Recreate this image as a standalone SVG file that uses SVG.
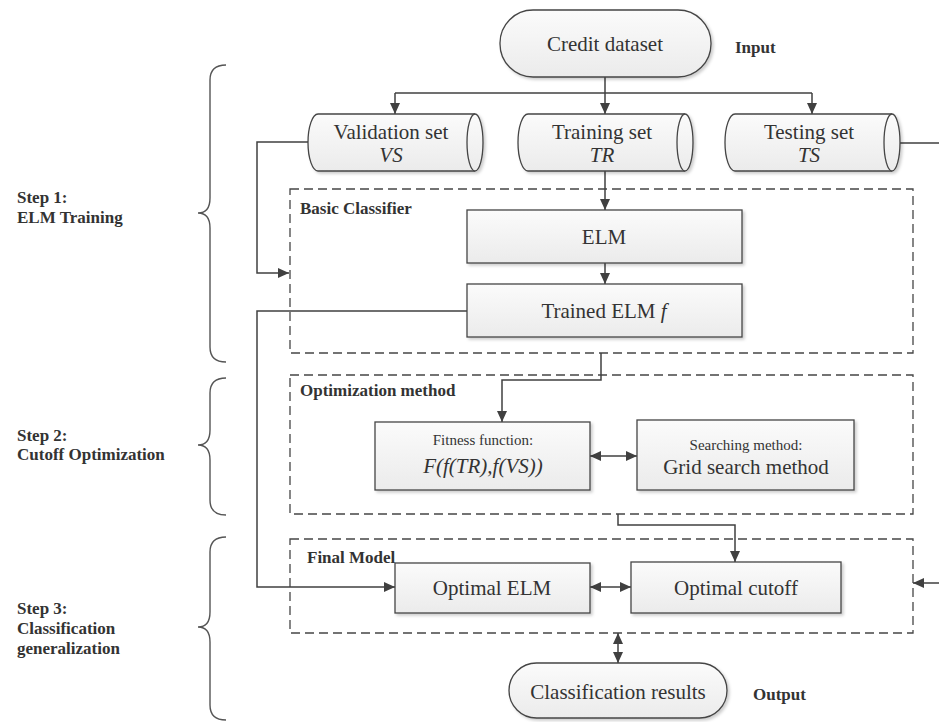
<svg xmlns="http://www.w3.org/2000/svg" width="939" height="722" viewBox="0 0 939 722">
<style>
.node{fill:url(#g);stroke:#454545;stroke-width:1.3}
.dash{fill:none;stroke:#454545;stroke-width:1.3;stroke-dasharray:9 5}
.con{fill:none;stroke:#404040;stroke-width:1.5}
.arr{marker-end:url(#ah)}
.dbl{marker-start:url(#ah);marker-end:url(#ah)}
.brace{fill:none;stroke:#555;stroke-width:1.4}
text{font-family:"Liberation Serif","Times New Roman","DejaVu Serif",serif;fill:#333}
.t{font-size:21px;text-anchor:middle}
.s{font-size:15px;text-anchor:middle}
.i{font-style:italic}
.b{font-weight:bold;font-size:17px}
.st{font-weight:bold;font-size:17px}
</style>
<defs>
<linearGradient id="g" x1="0" y1="0" x2="0" y2="1">
<stop offset="0" stop-color="#fbfbfb"/>
<stop offset="1" stop-color="#ebebeb"/>
</linearGradient>
<filter id="sh" x="-5%" y="-5%" width="115%" height="125%">
<feDropShadow dx="2" dy="2" stdDeviation="1.5" flood-color="#000" flood-opacity="0.2"/>
</filter>
<marker id="ah" markerUnits="userSpaceOnUse" markerWidth="12" markerHeight="10" refX="11" refY="5" orient="auto-start-reverse">
<path d="M0,0 L11,5 L0,10 Z" fill="#404040"/>
</marker>
</defs>

<g id="braces">
<path class="brace" d="M226,65 Q210,65 210,80 V198 Q210,213 198,213 Q210,213 210,228 V347 Q210,362 226,362"/>
<path class="brace" d="M226,378 Q210,378 210,393 V430 Q210,445 198,445 Q210,445 210,460 V500 Q210,515 226,515"/>
<path class="brace" d="M226,537 Q210,537 210,552 V612 Q210,627 198,627 Q210,627 210,642 V705 Q210,720 226,720"/>
</g>
<g id="step-labels">
<text class="st" x="17" y="203">Step 1:</text>
<text class="st" x="17" y="223">ELM Training</text>
<text class="st" x="17" y="441">Step 2:</text>
<text class="st" x="17" y="460">Cutoff Optimization</text>
<text class="st" x="17" y="614">Step 3:</text>
<text class="st" x="17" y="634">Classification</text>
<text class="st" x="17" y="654">generalization</text>
</g>

<g id="basic-classifier">
<rect class="dash" x="290" y="189" width="623" height="164"/>
<text class="b" x="300" y="214">Basic Classifier</text>
</g>
<g id="optimization-method">
<rect class="dash" x="290" y="375" width="623" height="139"/>
<text class="b" x="300" y="396">Optimization method</text>
</g>
<g id="final-model">
<rect class="dash" x="290" y="539" width="623" height="94"/>
<text class="b" x="307" y="563">Final Model</text>
</g>

<g id="connectors">
<path class="con" d="M605,77 V93"/>
<path class="con" d="M395,93 H812"/>
<path class="con arr" d="M395,93 V114"/>
<path class="con arr" d="M605,93 V114"/>
<path class="con arr" d="M812,93 V114"/>
<path class="con arr" d="M605,171 V210"/>
<path class="con arr" d="M605,263 V284"/>
<path class="con arr" d="M308,142 H257 V273 H289"/>
<path class="con arr" d="M467,311 H257 V587 H395"/>
<path class="con arr" d="M601,353 V380 H502 V422"/>
<path class="con dbl" d="M590,456 H637"/>
<path class="con arr" d="M618,514 V525 H735 V562"/>
<path class="con dbl" d="M590,587 H631"/>
<path class="con arr" d="M900,143 H945 V583 H913"/>
<path class="con dbl" d="M618,633 V663"/>
</g>

<g id="credit-dataset">
<rect class="node" filter="url(#sh)" x="500" y="10" width="211" height="67" rx="33" ry="33"/>
<text class="t" x="605" y="51">Credit dataset</text>
<text class="b" x="735" y="53">Input</text>
</g>

<g id="validation-set">
<path class="node" filter="url(#sh)" d="M318,114 H475 A8,28.5 0 0 1 475,171 H318 A10,28.5 0 0 1 318,114 Z"/>
<path class="node" d="M475,114 A8,28.5 0 0 0 475,171"/>
<text class="t" x="391" y="139">Validation set</text>
<text class="t i" x="391" y="162">VS</text>
</g>
<g id="training-set">
<path class="node" filter="url(#sh)" d="M528,114 H685 A8,28.5 0 0 1 685,171 H528 A10,28.5 0 0 1 528,114 Z"/>
<path class="node" d="M685,114 A8,28.5 0 0 0 685,171"/>
<text class="t" x="602" y="139">Training set</text>
<text class="t i" x="602" y="162">TR</text>
</g>
<g id="testing-set">
<path class="node" filter="url(#sh)" d="M735,114 H892 A8,28.5 0 0 1 892,171 H735 A10,28.5 0 0 1 735,114 Z"/>
<path class="node" d="M892,114 A8,28.5 0 0 0 892,171"/>
<text class="t" x="809" y="139">Testing set</text>
<text class="t i" x="809" y="162">TS</text>
</g>

<g id="elm">
<rect class="node" filter="url(#sh)" x="467" y="210" width="275" height="53"/>
<text class="t" x="604" y="244">ELM</text>
</g>
<g id="trained-elm">
<rect class="node" filter="url(#sh)" x="467" y="284" width="275" height="53"/>
<text class="t" x="604" y="318">Trained ELM <tspan class="i">f</tspan></text>
</g>

<g id="fitness-function">
<rect class="node" filter="url(#sh)" x="375" y="422" width="215" height="68"/>
<text class="s" x="483" y="445">Fitness function:</text>
<text class="t i" x="483" y="473">F(f(TR),f(VS))</text>
</g>
<g id="searching-method">
<rect class="node" filter="url(#sh)" x="637" y="420" width="217" height="70"/>
<text class="s" x="746" y="450">Searching method:</text>
<text class="t" x="746" y="474">Grid search method</text>
</g>

<g id="optimal-elm">
<rect class="node" filter="url(#sh)" x="395" y="563" width="195" height="50"/>
<text class="t" x="492" y="595">Optimal ELM</text>
</g>
<g id="optimal-cutoff">
<rect class="node" filter="url(#sh)" x="631" y="562" width="210" height="51"/>
<text class="t" x="736" y="595">Optimal cutoff</text>
</g>

<g id="classification-results">
<rect class="node" filter="url(#sh)" x="509" y="663" width="218" height="55" rx="27.5" ry="27.5"/>
<text class="t" x="618" y="699">Classification results</text>
<text class="b" x="753" y="700">Output</text>
</g>
</svg>
